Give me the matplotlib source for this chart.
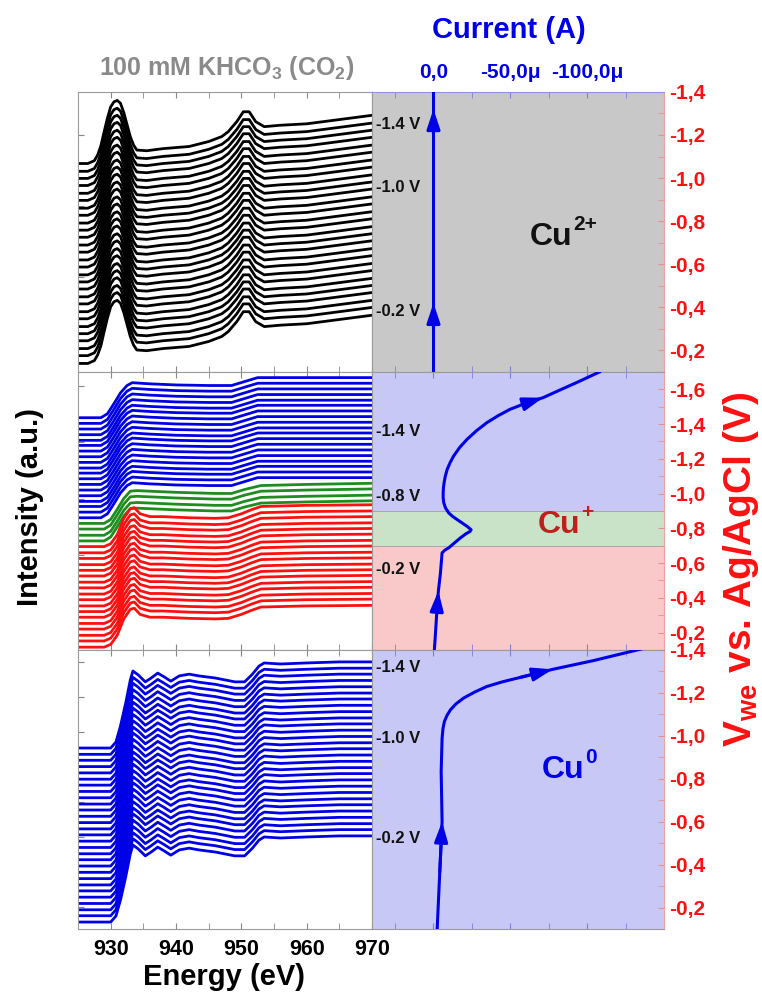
import matplotlib.pyplot as plt
from matplotlib.ticker import MultipleLocator, FuncFormatter

plt.rcParams['font.family'] = ['Liberation Sans', 'DejaVu Sans']
plt.rcParams['font.weight'] = 'bold'
plt.rcParams['mathtext.fontset'] = 'custom'
plt.rcParams['mathtext.rm'] = 'Liberation Sans:bold'
plt.rcParams['mathtext.it'] = 'Liberation Sans:bold'
plt.rcParams['mathtext.bf'] = 'Liberation Sans:bold'

# ---- Cu L-edge spectra (offset stacks) ----
# top: Cu2+ spectra
top_energy = [925, 926.5, 927.5, 928, 928.5, 929, 929.5, 930, 930.5, 931, 931.5, 932, 932.5,
              933, 933.5, 934, 935.5, 938, 942, 945, 947, 948, 949.3, 950.3, 951.2, 952.2,
              953.5, 956, 960, 965, 970]
top_shape = [0, 0, .04, .12, .25, .45, .64, .80, .87, .89, .85, .72, .55,
             .38, .26, .19, .18, .21, .24, .31, .38, .45, .59, .73, .73, .59,
             .52, .54, .56, .62, .68]
top_offsets = [-0.22, -0.11, -0.01, 0.10, 0.20, 0.30, 0.41, 0.51, 0.62, 0.72, 0.83, 0.93,
               1.03, 1.14, 1.24, 1.35, 1.45, 1.56, 1.66, 1.76, 1.87, 1.97, 2.08, 2.18,
               2.29, 2.39, 2.49, 2.60]

# middle: Cu+ (red), transition (green), Cu0 (blue)
red_energy = [925, 929, 930, 931, 932, 933, 933.6, 934.5, 936, 938, 942, 946, 948, 950,
              951.5, 953, 960, 970]
red_shape = [0, 0, .05, .21, .50, .67, .69, .58, .53, .53, .51, .50, .51, .58,
             .65, .71, .73, .74]
red_offsets = [-0.63, -0.52, -0.42, -0.31, -0.21, -0.10, 0.00, 0.10, 0.21, 0.31, 0.42,
               0.52, 0.63, 0.73, 0.83, 0.94, 1.04, 1.15]

green_energy = [925, 929, 930, 931, 932, 933, 934, 940, 946, 948.5, 950.5, 953, 960, 970]
green_shape = [0, 0, .07, .25, .44, .57, .58, .55, .53, .53, .60, .67, .69, .71]
green_offsets = [1.25, 1.35, 1.46, 1.56]

blue_mid_energy = [925, 928.5, 929.5, 930.5, 931.5, 932.5, 933.3, 936, 940, 945, 948.5,
                   950.5, 952.5, 960, 970]
blue_mid_shape = [0, 0, .07, .25, .44, .57, .62, .60, .58, .57, .57, .64, .71, .71, .71]
blue_mid_offsets = [1.66, 1.76, 1.86, 1.95, 2.05, 2.15, 2.25, 2.35, 2.45, 2.54, 2.64,
                    2.74, 2.84, 2.94, 3.03, 3.13, 3.23, 3.33, 3.43]

# bottom: Cu0 spectra
bot_energy = [925, 930.0, 930.8, 931.5, 932.3, 933.0, 933.4, 934.2, 935.3, 936.2, 937.2,
              938.2, 939.2, 940.5, 942, 943.5, 946, 949, 950.5, 951.7, 952.7, 953.5, 956,
              960, 965, 970]
bot_shape = [0, 0, .17, .63, 1.29, 1.94, 2.20, 2.09, 1.89, 2.00, 2.14, 2.03, 1.91, 2.06,
             2.11, 2.06, 2.00, 1.89, 1.89, 2.11, 2.34, 2.43, 2.40, 2.43, 2.46, 2.46]
bot_offsets = [-0.43, -0.25, -0.08, 0.10, 0.28, 0.46, 0.63, 0.81, 0.99, 1.17, 1.35, 1.52,
               1.70, 1.88, 2.06, 2.23, 2.41, 2.59, 2.77, 2.94, 3.12, 3.30, 3.48, 3.65,
               3.83, 4.01, 4.19, 4.36, 4.54]

# ---- current vs. potential (current in uA, potential in V) ----
top_volt = [-0.10, -0.30, -0.42, -1.20, -1.32, -1.40]
top_curr = [0, 0, 0, 0, 0, 0]
top_arrows = [2, 4]

mid_volt = [-0.10, -0.35, -0.44, -0.54, -0.659, -0.675, -0.688, -0.715, -0.745, -0.768,
            -0.783, -0.792, -0.812, -0.832, -0.851, -0.870, -0.889, -0.918, -0.947,
            -0.975, -1.005, -1.035, -1.062, -1.10, -1.139, -1.178, -1.216, -1.265,
            -1.312, -1.362, -1.408, -1.448, -1.485, -1.52, -1.552, -1.595, -1.638, -1.70]
mid_curr = [-0.6, -2.4, -3.2, -4.5, -5.6, -7.5, -9.9, -13.5, -17.5, -21.0,
            -23.9, -24.5, -21.8, -18.5, -15.3, -12.3, -9.9, -7.8, -6.7,
            -6.3, -6.3, -6.5, -6.9, -7.7, -8.9, -10.8, -13.1, -17.0,
            -21.8, -28.0, -34.7, -42.0, -49.8, -60.0, -71.3, -82.0, -92.9, -108.0]
mid_arrows = [2, 34]

bot_volt = [-0.10, -0.366, -0.60, -0.833, -0.989, -1.035, -1.067, -1.095, -1.121, -1.150,
            -1.176, -1.203, -1.230, -1.252, -1.272, -1.310, -1.350, -1.406]
bot_curr = [-2.4, -4.1, -5.6, -5.0, -5.6, -6.2, -7.1, -8.8, -11.0, -14.8,
            -19.6, -26.5, -34.7, -45.0, -56.3, -77.6, -103.7, -136.0]
bot_arrows = [2, 15]

band_limits = [-0.1, -0.7, -0.9, -1.7]
band_colors = ['#f9c8c8', '#c8e3c8', '#c8c8f6']

top_marks = [('-1.4 V', -1.25), ('-1.0 V', -0.955), ('-0.2 V', -0.38)]
mid_marks = [('-1.4 V', -1.36), ('-0.8 V', -0.985), ('-0.2 V', -0.565)]
bot_marks = [('-1.4 V', -1.32), ('-1.0 V', -0.99), ('-0.2 V', -0.52)]

BLUE = '#0000e6'
RED = '#ff1010'
GREEN = '#1e8c1e'


def fmt_volt(v, pos):
    return f'{v:.1f}'.replace('.', ',')


def fmt_current(v, pos):
    if abs(v) < 1e-9:
        return '0,0'
    return f'{v:.1f}\u03bc'.replace('.', ',')


def style_spectra(ax, ylim, show_x):
    ax.set_xlim(925, 970)
    ax.set_ylim(*ylim)
    ax.xaxis.set_major_locator(MultipleLocator(10))
    ax.xaxis.set_minor_locator(MultipleLocator(5))
    ax.yaxis.set_major_locator(MultipleLocator(1))
    ax.tick_params(which='both', direction='in', top=True, right=False, color='#888888',
                   labelleft=False, labelbottom=show_x, labelsize=15.5, pad=7)
    ax.tick_params(which='major', length=4)
    ax.tick_params(which='minor', length=4)
    for sp in ax.spines.values():
        sp.set_color('#9a9a9a')


def stack(ax, energy, shape, offsets, color):
    for off in offsets:
        ax.plot(energy, [s + off for s in shape], color=color, lw=2.0,
                solid_joinstyle='round')


def style_current(ax, ylim, yticks, top_labels):
    ax.set_xlim(40, -150)
    ax.set_ylim(*ylim)
    ax.set_xticks([0, -50, -100])
    ax.xaxis.set_minor_locator(MultipleLocator(25))
    ax.xaxis.set_major_formatter(FuncFormatter(fmt_current))
    ax.xaxis.tick_top()
    ax.tick_params(axis='x', which='both', direction='in', top=True, bottom=True,
                   labeltop=top_labels, labelbottom=False, labelcolor=BLUE,
                   labelsize=15, pad=7, color='#7f7fd8', length=4)
    ax.set_yticks(yticks)
    ax.yaxis.set_minor_locator(MultipleLocator(0.1))
    ax.yaxis.tick_right()
    ax.yaxis.set_major_formatter(FuncFormatter(fmt_volt))
    ax.tick_params(axis='y', which='both', direction='in', right=True, left=False,
                   labelcolor=RED, labelsize=15, pad=4, color='#e89090', length=4)
    for sp in ax.spines.values():
        sp.set_color('#9a9a9a')
    ax.spines['right'].set_color('#f0a0a0')
    if top_labels:
        ax.spines['top'].set_color('#9090f0')


def draw_iv(ax, curr, volt, arrows):
    ax.plot(curr, volt, color=BLUE, lw=2.2, zorder=3, solid_joinstyle='round')
    for k in arrows:
        ax.annotate('', xy=(curr[k], volt[k]), xytext=(curr[k - 1], volt[k - 1]),
                    arrowprops=dict(arrowstyle='-|>,head_length=0.6,head_width=0.2',
                                    color=BLUE, lw=2.2, shrinkA=0, shrinkB=0,
                                    mutation_scale=20),
                    zorder=4)


def potential_marks(ax, marks):
    for text, v in marks:
        ax.text(0.012, v, text, transform=ax.get_yaxis_transform(), ha='left',
                va='center', fontsize=12, color='#111111', zorder=5)


def cu_label(ax, x, y, sup, color):
    base = ax.text(x, y, 'Cu', transform=ax.transAxes, fontsize=23, color=color,
                   va='baseline', ha='left', zorder=5)
    ax.annotate(sup, xy=(1.02, 0.6), xycoords=base, fontsize=15, color=color,
                va='bottom', ha='left', zorder=5)


fig = plt.figure(figsize=(7.62, 9.98), dpi=100)

x_left, w_left = 0.1024, 0.3858
x_right, w_right = 0.4882, 0.3832
rows = [(0.6273, 0.2806), (0.3487, 0.2786), (0.0691, 0.2796)]

ax_s1 = fig.add_axes([x_left, rows[0][0], w_left, rows[0][1]])
ax_s2 = fig.add_axes([x_left, rows[1][0], w_left, rows[1][1]])
ax_s3 = fig.add_axes([x_left, rows[2][0], w_left, rows[2][1]])
ax_c1 = fig.add_axes([x_right, rows[0][0], w_right, rows[0][1]])
ax_c2 = fig.add_axes([x_right, rows[1][0], w_right, rows[1][1]])
ax_c3 = fig.add_axes([x_right, rows[2][0], w_right, rows[2][1]])

# spectra
stack(ax_s1, top_energy, top_shape, top_offsets, 'black')
style_spectra(ax_s1, (-0.34, 3.61), False)

stack(ax_s2, blue_mid_energy, blue_mid_shape, blue_mid_offsets, BLUE)
stack(ax_s2, green_energy, green_shape, green_offsets, GREEN)
stack(ax_s2, red_energy, red_shape, red_offsets, RED)
style_spectra(ax_s2, (-0.68, 4.24), False)

stack(ax_s3, bot_energy, bot_shape, bot_offsets, BLUE)
style_spectra(ax_s3, (-0.63, 7.34), True)

# current panels
ax_c1.set_facecolor('#c8c8c8')
draw_iv(ax_c1, top_curr, top_volt, top_arrows)
style_current(ax_c1, (-0.1, -1.4), [-1.4, -1.2, -1.0, -0.8, -0.6, -0.4, -0.2], True)
potential_marks(ax_c1, top_marks)
cu_label(ax_c1, 0.541, 0.454, '2+', '#111111')

for lo, hi, col in zip(band_limits[:-1], band_limits[1:], band_colors):
    ax_c2.axhspan(lo, hi, color=col, lw=0, zorder=0)
for lim in band_limits[1:-1]:
    ax_c2.axhline(lim, color='#a0a0a0', lw=0.6, zorder=1)
draw_iv(ax_c2, mid_curr, mid_volt, mid_arrows)
style_current(ax_c2, (-0.1, -1.7), [-1.6, -1.4, -1.2, -1.0, -0.8, -0.6, -0.4, -0.2], False)
potential_marks(ax_c2, mid_marks)
cu_label(ax_c2, 0.568, 0.421, '+', '#c0201c')

ax_c3.set_facecolor('#c8c8f6')
draw_iv(ax_c3, bot_curr, bot_volt, bot_arrows)
style_current(ax_c3, (-0.1, -1.4), [-1.4, -1.2, -1.0, -0.8, -0.6, -0.4, -0.2], False)
potential_marks(ax_c3, bot_marks)
cu_label(ax_c3, 0.582, 0.541, '0', BLUE)

# labels
fig.text(0.297, 0.932, '100 mM KHCO$_3$ (CO$_2$)', fontsize=18, color='#8a8a8a',
         ha='center', va='center')
fig.text(0.668, 0.970, 'Current (A)', fontsize=21, color=BLUE, ha='center', va='center')
fig.text(0.294, 0.021, 'Energy (eV)', fontsize=21, color='black', ha='center',
         va='center')
fig.text(0.039, 0.492, 'Intensity (a.u.)', fontsize=21, color='black', ha='center',
         va='center', rotation=90)
fig.text(0.972, 0.429, 'V$_{we}$ vs. Ag/AgCl (V)', fontsize=28, color=RED, ha='center',
         va='center', rotation=90)

fig.savefig('out.png', dpi=100)
